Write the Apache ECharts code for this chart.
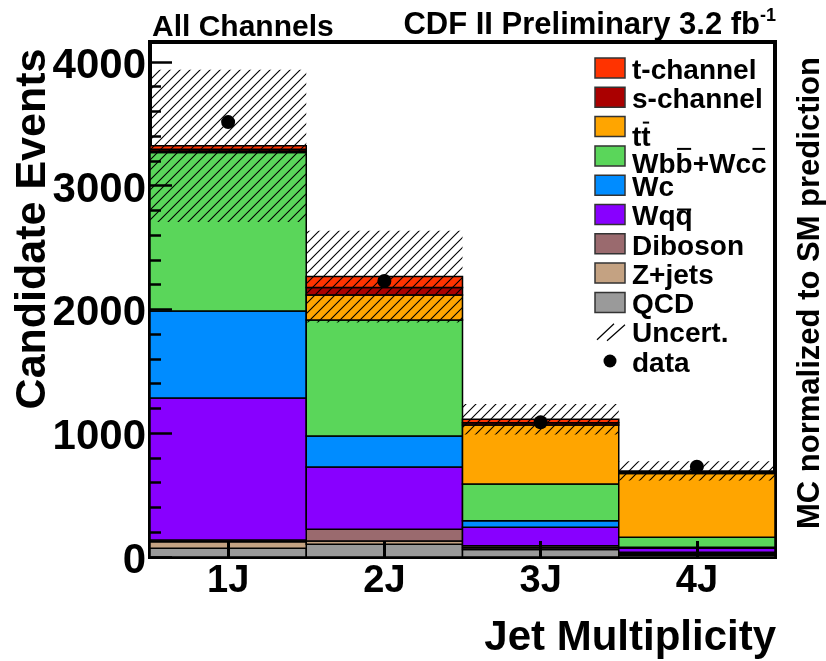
<!DOCTYPE html>
<html>
<head>
<meta charset="utf-8">
<script src="https://cdn.jsdelivr.net/npm/echarts@6/dist/echarts.min.js"></script>
<style>
  html, body { margin: 0; padding: 0; background: #fff; }
  #chart { width: 826px; height: 661px; }
</style>
</head>
<body>
<div id="chart"></div>
<script>
// Jet-multiplicity bins
const categories = ['1J', '2J', '3J', '4J'];

// Predicted event yields per process (stacked bottom to top)
const qcd     = [70, 103, 60, 15];
const zjets   = [54, 26, 15, 12];
const diboson = [13, 95, 16, 11];
const wqq     = [1148, 503, 149, 32];
const wc      = [703, 251, 53, 8];
const wbbwcc  = [1279, 937, 297, 81];
const ttbar   = [12, 202, 477, 516];
const schan   = [15, 59, 18, 8];
const tchan   = [27, 89, 28, 12];

// Total prediction uncertainty (+/-) per bin
const uncert = [614, 370, 123, 78];

// Observed data
const observed = [3513, 2230, 1088, 730];

// Y-axis range and tick spacing
const yMax = 4160;
const yStep = 1000;

const FONT = '"Liberation Sans", Arial, Helvetica, sans-serif';

const layers = [
  { name: 'QCD',       values: qcd,     color: '#9a9a9a' },
  { name: 'Z+jets',    values: zjets,   color: '#c4a282' },
  { name: 'Diboson',   values: diboson, color: '#9a6a6e' },
  { name: 'Wqq',       values: wqq,     color: '#8800ff' },
  { name: 'Wc',        values: wc,      color: '#008cff' },
  { name: 'Wbb+Wcc',   values: wbbwcc,  color: '#5ad65a' },
  { name: 'ttbar',     values: ttbar,   color: '#ffa500' },
  { name: 's-channel', values: schan,   color: '#aa0000' },
  { name: 't-channel', values: tchan,   color: '#ff3300' }
];

// Legend rows, top to bottom (U+0305 marks an overlined letter)
const legendLabels = ['t-channel', 's-channel', 'tt\u0305', 'Wbb\u0305+Wcc\u0305', 'Wc', 'Wqq\u0305',
                      'Diboson', 'Z+jets', 'QCD', 'Uncert.', 'data'];

// Diagonal hatch tile for the uncertainty band
function hatchTile() {
  const c = document.createElement('canvas');
  c.width = 10; c.height = 10;
  const g = c.getContext('2d');
  g.strokeStyle = '#000';
  g.lineWidth = 1.1;
  g.beginPath();
  g.moveTo(0, 10); g.lineTo(10, 0);
  g.moveTo(-5, 5); g.lineTo(5, -5);
  g.moveTo(5, 15); g.lineTo(15, 5);
  g.stroke();
  return c;
}
const hatch = hatchTile();

// One histogram bin drawn as a rectangle spanning the full category band
function binRenderer(style) {
  return function (params, api) {
    const i = api.value(0);
    const lo = api.coord([i, api.value(1)]);
    const hi = api.coord([i, api.value(2)]);
    const w = api.size([1, 0])[0];
    return {
      type: 'rect',
      shape: { x: lo[0] - w / 2, y: hi[1], width: w, height: lo[1] - hi[1] },
      style: style
    };
  };
}

const totals = categories.map(() => 0);
const series = layers.map((l) => {
  const data = l.values.map((v, i) => {
    const lo = totals[i];
    totals[i] = lo + v;
    return [i, lo, totals[i]];
  });
  return {
    type: 'custom',
    name: l.name,
    renderItem: binRenderer({ fill: l.color, stroke: '#000', lineWidth: 1.5 }),
    encode: { x: 0, y: [1, 2] },
    data: data,
    z: 2,
    silent: true
  };
});

series.push({
  type: 'custom',
  name: 'Uncert.',
  renderItem: binRenderer({ fill: { image: hatch, repeat: 'repeat' }, stroke: null, lineWidth: 0 }),
  encode: { x: 0, y: [1, 2] },
  data: totals.map((t, i) => [i, t - uncert[i], t + uncert[i]]),
  z: 3,
  silent: true
});

series.push({
  type: 'scatter',
  name: 'data',
  data: observed.map((v, i) => [i, v]),
  symbol: 'circle',
  symbolSize: 14,
  itemStyle: { color: '#000', opacity: 1 },
  z: 4,
  silent: true
});

// Legend built from graphic elements
const legendFont = 'bold 28px ' + FONT;
const measure = document.createElement('canvas').getContext('2d');
measure.font = legendFont;
const legendColors = layers.slice().reverse().map(l => l.color);
const legendBaseShift = [0, 0, 9, 6, 0, 0, 0, 0, 0, 0, 0];
const graphics = [];
const boxX = 595, boxTop0 = 58, rowStep = 29.3, textX = 632;

legendLabels.forEach((label, k) => {
  const top = boxTop0 + k * rowStep;
  const baseline = top + 21 + legendBaseShift[k];
  // strip overline marks, remember barred letters
  let plain = '';
  const bars = [];
  for (let j = 0; j < label.length; j++) {
    if (label[j + 1] === '\u0305') {
      bars.push(plain.length);
      plain += label[j];
      j++;
    } else {
      plain += label[j];
    }
  }
  if (k < legendColors.length) {
    graphics.push({
      type: 'rect',
      shape: { x: boxX, y: top, width: 30, height: 20 },
      style: { fill: legendColors[k], stroke: '#333', lineWidth: 1.5 }
    });
  } else if (plain === 'Uncert.') {
    graphics.push({ type: 'line', shape: { x1: 597, y1: top + 18, x2: 614, y2: top + 2 }, style: { stroke: '#000', lineWidth: 1.2 } });
    graphics.push({ type: 'line', shape: { x1: 607, y1: top + 19, x2: 625, y2: top + 3 }, style: { stroke: '#000', lineWidth: 1.2 } });
  } else {
    graphics.push({ type: 'circle', shape: { cx: 610, cy: top + 10, r: 6.5 }, style: { fill: '#000' } });
  }
  graphics.push({
    type: 'text',
    x: textX,
    y: baseline + 6,
    style: { text: plain, font: legendFont, fill: '#000', textAlign: 'left', textVerticalAlign: 'bottom' }
  });
  const tall = bars.some(p => /[bdfhklt]/.test(plain[p]));
  bars.forEach(p => {
    const x0 = textX + measure.measureText(plain.slice(0, p)).width;
    const x1 = textX + measure.measureText(plain.slice(0, p + 1)).width;
    const yb = baseline - (tall ? 24 : 16);
    graphics.push({ type: 'line', shape: { x1: x0 + 1.5, y1: yb, x2: x1 - 1.5, y2: yb }, style: { stroke: '#000', lineWidth: 2 } });
  });
});

// Titles and annotations
graphics.push({
  type: 'text', x: 152, y: 43,
  style: { text: 'All Channels', font: 'bold 30px ' + FONT, fill: '#000', textAlign: 'left', textVerticalAlign: 'bottom' }
});
graphics.push({
  type: 'text', x: 776, y: 43,
  style: {
    text: '{a|CDF II Preliminary 3.2 fb}{s|-1}',
    textAlign: 'right', textVerticalAlign: 'bottom',
    rich: {
      a: { font: 'bold 31px ' + FONT, fill: '#000', lineHeight: 36 },
      s: { font: 'bold 18px ' + FONT, fill: '#000', verticalAlign: 'top', lineHeight: 36 }
    }
  }
});
graphics.push({
  type: 'text', x: 33, y: 229, rotation: Math.PI / 2,
  style: { text: 'Candidate Events', font: 'bold 43px ' + FONT, fill: '#000', textAlign: 'center', textVerticalAlign: 'middle' }
});
graphics.push({
  type: 'text', x: 810, y: 293, rotation: Math.PI / 2,
  style: { text: 'MC normalized to SM prediction', font: 'bold 31px ' + FONT, fill: '#000', textAlign: 'center', textVerticalAlign: 'middle' }
});
graphics.push({
  type: 'text', x: 776, y: 638,
  style: { text: 'Jet Multiplicity', font: 'bold 42px ' + FONT, fill: '#000', textAlign: 'right', textVerticalAlign: 'middle' }
});

const chart = echarts.init(document.getElementById('chart'), null, { renderer: 'canvas' });
chart.setOption({
  animation: false,
  backgroundColor: '#fff',
  grid: {
    left: 150, right: 51, top: 42, bottom: 104,
    show: true, borderColor: '#000', borderWidth: 4, backgroundColor: 'transparent'
  },
  xAxis: {
    type: 'category',
    data: categories,
    boundaryGap: true,
    z: 6,
    axisLine: { show: false },
    axisTick: { show: true, inside: true, alignWithLabel: true, length: 16, lineStyle: { color: '#000', width: 3 } },
    axisLabel: { color: '#000', fontFamily: FONT, fontWeight: 'bold', fontSize: 38, margin: 6 },
    splitLine: { show: false }
  },
  yAxis: {
    type: 'value',
    min: 0, max: yMax, interval: yStep,
    z: 6,
    axisLine: { show: false },
    axisTick: { show: true, inside: true, length: 22, lineStyle: { color: '#000', width: 2.5 } },
    minorTick: { show: true, splitNumber: 5, length: 11, lineStyle: { color: '#000', width: 2.5 } },
    axisLabel: {
      color: '#000', margin: 4,
      formatter: v => (v % yStep === 0 ? '{v|' + v + '}' : ''),
      rich: {
        v: { fontFamily: FONT, fontWeight: 'bold', fontSize: 42, color: '#000', padding: [9, 0, 0, 0] }
      }
    },
    splitLine: { show: false }
  },
  series: series,
  graphic: graphics
});
</script>
</body>
</html>
